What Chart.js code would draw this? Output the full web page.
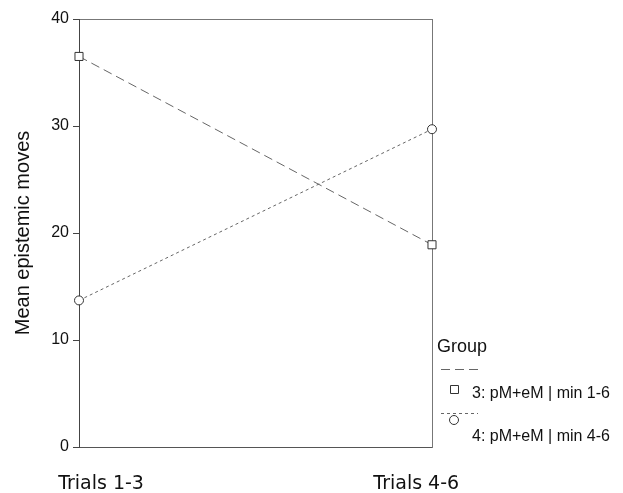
<!DOCTYPE html>
<html>
<head>
<meta charset="utf-8">
<script src="https://cdn.jsdelivr.net/npm/chart.js@4.4.1/dist/chart.umd.min.js"></script>
<style>
  html, body { margin: 0; padding: 0; background: #fff; }
  canvas { display: block; }
</style>
</head>
<body>
<canvas id="chart" width="623" height="493"></canvas>
<script>
// data
const categories = ["Trials 1-3", "Trials 4-6"];
const group3 = [36.5, 18.9];
const group4 = [13.7, 29.7];
const groupNames = ["3: pM+eM | min 1-6", "4: pM+eM | min 4-6"];
const yTicks = [0, 10, 20, 30, 40];

const SANS = "'Liberation Sans', Arial, sans-serif";
const VERD = "'DejaVu Sans', Verdana, sans-serif";

// legend in the SPSS style: "Group", then line sample, then marker + name
const groupLegend = {
  id: "groupLegend",
  afterDraw(chart) {
    const c = chart.ctx;
    c.save();
    c.fillStyle = "#111";
    c.font = "18px " + SANS;
    c.textBaseline = "alphabetic";
    c.fillText("Group", 437, 352);
    const rows = [
      { lineY: 369, markY: 389, textY: 394 },
      { lineY: 413, markY: 420, textY: 437 }
    ];
    chart.data.datasets.forEach((ds, i) => {
      const r = rows[i];
      c.strokeStyle = ds.borderColor;
      c.lineWidth = 1;
      c.setLineDash(ds.borderDash);
      c.beginPath();
      c.moveTo(441, r.lineY + 0.5);
      c.lineTo(478, r.lineY + 0.5);
      c.stroke();
      c.setLineDash([]);
      c.strokeStyle = "#333";
      c.beginPath();
      if (ds.pointStyle === "rect") c.rect(450.5, r.markY - 3.5, 8, 8);
      else c.arc(454, r.markY, 4.5, 0, Math.PI * 2);
      c.fillStyle = "#fff";
      c.fill();
      c.stroke();
      c.fillStyle = "#111";
      c.font = "16px " + SANS;
      c.textBaseline = "middle";
      c.fillText(ds.label, 472, r.textY);
    });
    c.restore();
  }
};

const ctx = document.getElementById("chart").getContext("2d");

new Chart(ctx, {
  type: "line",
  data: {
    labels: categories,
    datasets: [
      {
        label: groupNames[0],
        data: group3,
        borderColor: "#666",
        borderWidth: 1,
        borderDash: [9, 5],
        pointStyle: "rect",
        pointRadius: 5.7,
        pointBorderColor: "#333",
        pointBackgroundColor: "#fff",
        pointBorderWidth: 1,
        tension: 0,
        clip: false
      },
      {
        label: groupNames[1],
        data: group4,
        borderColor: "#666",
        borderWidth: 1,
        borderDash: [3, 3],
        pointStyle: "circle",
        pointRadius: 4.5,
        pointBorderColor: "#333",
        pointBackgroundColor: "#fff",
        pointBorderWidth: 1,
        tension: 0,
        clip: false
      }
    ]
  },
  options: {
    responsive: false,
    animation: false,
    devicePixelRatio: 1,
    layout: { padding: { left: 0, top: 19, right: 191, bottom: 0 } },
    plugins: {
      legend: { display: false },
      tooltip: { enabled: false }
    },
    scales: {
      x: {
        type: "category",
        position: "bottom",
        offset: false,
        grid: { display: false },
        ticks: { display: false },
        border: { color: "#555", width: 1 },
        afterFit(s) { s.height = 0; }
      },
      xLabels: {
        type: "linear",
        position: "bottom",
        min: -0.07,
        max: 1.05,
        grid: { display: false },
        border: { display: false },
        afterBuildTicks(s) { s.ticks = categories.map((_, i) => ({ value: i })); },
        ticks: {
          callback: v => categories[v],
          font: { family: VERD, size: 19 },
          color: "#111",
          padding: 18,
          maxRotation: 0,
          autoSkip: false
        },
        afterFit(s) { s.height = 46; }
      },
      xTop: {
        type: "linear",
        position: "top",
        min: 0,
        max: 1,
        grid: { display: false },
        ticks: { display: false },
        border: { color: "#777", width: 1 },
        afterFit(s) { s.height = 0; }
      },
      y: {
        min: 0,
        max: 40,
        position: "left",
        afterBuildTicks(s) { s.ticks = yTicks.map(v => ({ value: v })); },
        grid: { drawOnChartArea: false, drawTicks: true, tickLength: 6, color: "#444" },
        border: { color: "#444", width: 1 },
        ticks: {
          font: { family: SANS, size: 16 },
          color: "#111",
          padding: 4
        },
        title: {
          display: true,
          text: "Mean epistemic moves",
          font: { family: SANS, size: 20 },
          color: "#111",
          padding: { top: 11, bottom: 0 }
        },
        afterFit(s) { s.width = 79; }
      },
      yRight: {
        min: 0,
        max: 40,
        position: "right",
        grid: { display: false },
        ticks: { display: false },
        border: { color: "#777", width: 1 },
        afterFit(s) { s.width = 0; }
      }
    }
  },
  plugins: [groupLegend]
});
</script>
</body>
</html>
